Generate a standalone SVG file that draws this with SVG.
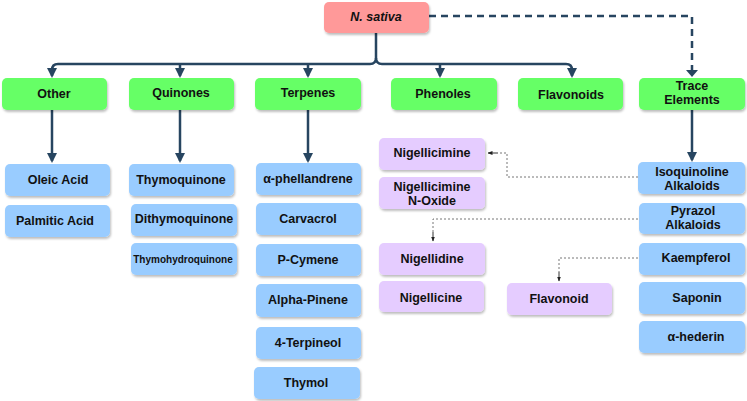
<svg xmlns="http://www.w3.org/2000/svg" width="747" height="401" viewBox="0 0 747 401">
<style>
text{font-family:"Liberation Sans",Arial,sans-serif;font-weight:bold;font-size:12.5px;fill:#111;text-anchor:middle;dominant-baseline:central}
text.sm{font-size:10px}
.g{fill:#66FF66}
.b{fill:#99CCFF}
.p{fill:#E5CCFF}
.r{fill:#FF9999}
.bx{filter:url(#sh)}
.main{fill:none;stroke:#274560;stroke-width:2.5}
.dash{fill:none;stroke:#274560;stroke-width:2.5;stroke-dasharray:7,5}
.dot{fill:none;stroke:#777;stroke-width:1;stroke-dasharray:2,2}
.dotend{fill:none;stroke:#333;stroke-width:1}
</style>
<defs>
<filter id="sh" x="-10%" y="-10%" width="125%" height="140%">
<feDropShadow dx="1" dy="2" stdDeviation="1" flood-color="#000" flood-opacity="0.25"/>
</filter>
<marker id="ah" viewBox="0 0 10 10" refX="8" refY="5" markerWidth="4" markerHeight="4" orient="auto" markerUnits="strokeWidth">
<path d="M0,0 L10,5 L0,10 z" fill="#274560"/>
</marker>
<marker id="sa" viewBox="0 0 10 10" refX="9" refY="5" markerWidth="5" markerHeight="5" orient="auto" markerUnits="strokeWidth">
<path d="M0,1 L10,5 L0,9 z" fill="#222"/>
</marker>
</defs>

<g id="connectors">
<path class="main" d="M376,33 V58 Q376,64 370,64 H58 Q52,64 52,70 V76" marker-end="url(#ah)"/>
<path class="main" d="M376,58 Q376,64 382,64 H566 Q572,64 572,70 V76" marker-end="url(#ah)"/>
<path class="main" d="M180,64 V76" marker-end="url(#ah)"/>
<path class="main" d="M308,64 V76" marker-end="url(#ah)"/>
<path class="main" d="M440,64 V76" marker-end="url(#ah)"/>
<path class="dash" d="M429,16 H692 V76"/>
<path d="M686,70 L692,77 L698,70 z" fill="#274560"/>
<path class="main" d="M52,110 V161" marker-end="url(#ah)"/>
<path class="main" d="M180,110 V161" marker-end="url(#ah)"/>
<path class="main" d="M308,110 V161" marker-end="url(#ah)"/>
<path class="main" d="M692,110 V160" marker-end="url(#ah)"/>
<path class="dot" d="M638,177 H507 V153 H498"/>
<path class="dotend" d="M498,153 H488" marker-end="url(#sa)"/>
<path class="dot" d="M638,219 H433 V232"/>
<path class="dotend" d="M433,232 V241" marker-end="url(#sa)"/>
<path class="dot" d="M638,258 H559 V272"/>
<path class="dotend" d="M559,272 V281" marker-end="url(#sa)"/>
</g>

<g id="n-sativa"><rect class="r bx" x="324" y="2" width="105" height="31" rx="5"/><text x="376" y="17" font-style="italic">N. sativa</text></g>

<g id="other"><rect class="g bx" x="2" y="78" width="105" height="32" rx="5"/><text x="54" y="94">Other</text></g>
<g id="quinones"><rect class="g bx" x="129" y="78" width="105" height="32" rx="5"/><text x="181" y="93">Quinones</text></g>
<g id="terpenes"><rect class="g bx" x="255" y="78" width="106" height="32" rx="5"/><text x="308" y="93">Terpenes</text></g>
<g id="phenoles"><rect class="g bx" x="391" y="78" width="106" height="32" rx="5"/><text x="443" y="94">Phenoles</text></g>
<g id="flavonoids"><rect class="g bx" x="518" y="78" width="105" height="32" rx="5"/><text x="571" y="95">Flavonoids</text></g>
<g id="trace-elements"><rect class="g bx" x="639" y="78" width="106" height="32" rx="5"/><text x="692" y="86">Trace</text><text x="692" y="100">Elements</text></g>

<g id="oleic-acid"><rect class="b bx" x="5" y="164" width="105" height="32" rx="5"/><text x="58" y="180">Oleic Acid</text></g>
<g id="palmitic-acid"><rect class="b bx" x="5" y="205" width="105" height="32" rx="5"/><text x="55" y="221">Palmitic Acid</text></g>

<g id="thymoquinone"><rect class="b bx" x="129" y="164" width="105" height="32" rx="5"/><text x="181" y="180">Thymoquinone</text></g>
<g id="dithymoquinone"><rect class="b bx" x="131" y="204" width="106" height="32" rx="5"/><text x="184" y="219">Dithymoquinone</text></g>
<g id="thymohydroquinone"><rect class="b bx" x="131" y="243" width="106" height="32" rx="5"/><text class="sm" x="183" y="259">Thymohydroquinone</text></g>

<g id="a-phellandrene"><rect class="b bx" x="256" y="163" width="105" height="32" rx="5"/><text x="308" y="179">α-phellandrene</text></g>
<g id="carvacrol"><rect class="b bx" x="256" y="203" width="105" height="32" rx="5"/><text x="308" y="219">Carvacrol</text></g>
<g id="p-cymene"><rect class="b bx" x="256" y="244" width="105" height="32" rx="5"/><text x="308" y="260">P-Cymene</text></g>
<g id="alpha-pinene"><rect class="b bx" x="256" y="284" width="105" height="33" rx="5"/><text x="308" y="300">Alpha-Pinene</text></g>
<g id="terpineol"><rect class="b bx" x="256" y="327" width="105" height="32" rx="5"/><text x="308" y="343">4-Terpineol</text></g>
<g id="thymol"><rect class="b bx" x="254" y="367" width="106" height="32" rx="5"/><text x="306" y="383">Thymol</text></g>

<g id="nigellicimine"><rect class="p bx" x="379" y="138" width="106" height="32" rx="5"/><text x="432" y="153">Nigellicimine</text></g>
<g id="nigellicimine-n-oxide"><rect class="p bx" x="379" y="177" width="106" height="32" rx="5"/><text x="432" y="187">Nigellicimine</text><text x="432" y="201">N-Oxide</text></g>
<g id="nigellidine"><rect class="p bx" x="379" y="243" width="106" height="32" rx="5"/><text x="432" y="259">Nigellidine</text></g>
<g id="nigellicine"><rect class="p bx" x="379" y="281" width="105" height="31" rx="5"/><text x="431" y="298">Nigellicine</text></g>
<g id="flavonoid"><rect class="p bx" x="507" y="283" width="105" height="32" rx="5"/><text x="559" y="299">Flavonoid</text></g>

<g id="isoquinoline-alkaloids"><rect class="b bx" x="638" y="162" width="107" height="32" rx="5"/><text x="692" y="172">Isoquinoline</text><text x="692" y="186">Alkaloids</text></g>
<g id="pyrazol-alkaloids"><rect class="b bx" x="639" y="203" width="106" height="31" rx="5"/><text x="693" y="211">Pyrazol</text><text x="693" y="225">Alkaloids</text></g>
<g id="kaempferol"><rect class="b bx" x="639" y="243" width="106" height="32" rx="5"/><text x="696" y="258">Kaempferol</text></g>
<g id="saponin"><rect class="b bx" x="639" y="282" width="106" height="32" rx="5"/><text x="697" y="298">Saponin</text></g>
<g id="a-hederin"><rect class="b bx" x="639" y="321" width="106" height="32" rx="5"/><text x="696" y="337">α-hederin</text></g>
</svg>
